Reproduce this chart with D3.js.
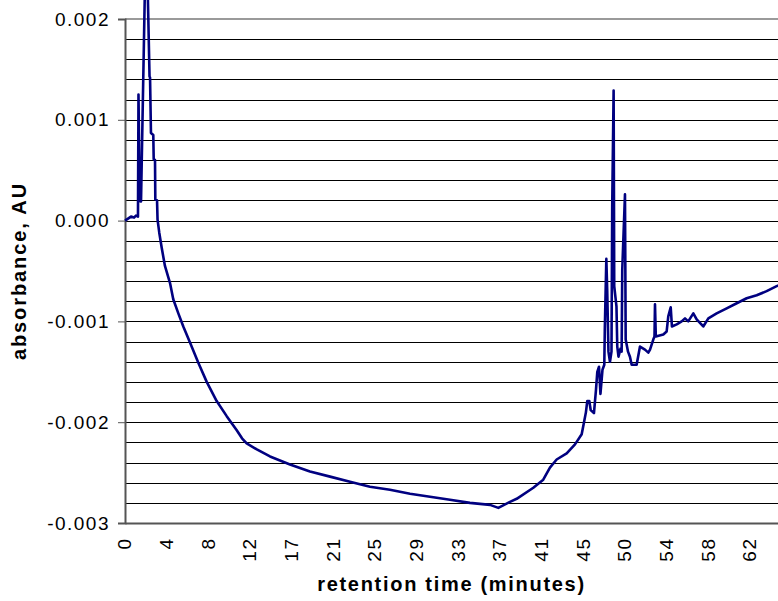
<!DOCTYPE html>
<html>
<head>
<meta charset="utf-8">
<script src="https://cdn.jsdelivr.net/npm/d3@7"></script>
<style>
  body { margin: 0; background: #fff; }
  text { font-family: "Liberation Sans", Arial, sans-serif; }
</style>
</head>
<body>
<div id="chart"></div>
<script>
// retention time (minutes) and absorbance (AU)
var times = [0.00, 0.30, 0.59, 0.89, 1.08, 1.28, 1.33, 1.43, 1.53, 1.58, 2.09, 2.42, 2.47, 2.56, 2.79, 2.83,
  2.96, 2.99, 3.16, 3.21, 3.38, 3.62, 3.94, 4.44, 4.76, 5.26, 5.75, 6.41, 7.23, 8.06, 9.04, 10.03, 11.02,
  11.54, 12.00, 13.00, 14.30, 16.27, 18.24, 20.22, 22.19, 24.16, 26.13, 28.11, 30.08, 32.05, 34.02, 36.00,
  36.82, 37.97, 38.63, 40.27, 41.25, 41.91, 42.57, 43.56, 44.38, 45.04, 45.27, 45.46, 45.59, 45.79, 45.93,
  46.25, 46.45, 46.58, 46.75, 46.89, 47.09, 47.27, 47.32, 47.47, 47.56, 47.68, 47.83, 47.98, 48.05, 48.19,
  48.25, 48.47, 48.55, 48.67, 48.87, 48.98, 49.04, 49.31, 49.38, 49.61, 49.80, 49.97, 50.46, 50.79, 51.28,
  51.61, 51.78, 52.10, 52.22, 52.27, 52.35, 53.09, 53.42, 53.58, 53.82, 53.94, 54.41, 54.90, 55.23, 55.55,
  56.05, 56.38, 57.03, 57.53, 58.35, 59.34, 60.33, 61.31, 62.30, 63.28, 64.27, 64.50];

var absorbance = [0.00000, 0.00002, 0.00004, 0.00003, 0.00005, 0.00004, 0.00125, 0.00039, 0.00019, 0.00019,
  0.00300, 0.00143, 0.00142, 0.00087, 0.00085, 0.00061, 0.00060, 0.00021, 0.00020, 0.00001, -0.00012,
  -0.00027, -0.00045, -0.00062, -0.00078, -0.00092, -0.00105, -0.00121, -0.00141, -0.00160, -0.00179,
  -0.00194, -0.00208, -0.00216, -0.00221, -0.00227, -0.00234, -0.00242, -0.00249, -0.00254, -0.00259,
  -0.00264, -0.00267, -0.00271, -0.00274, -0.00277, -0.00280, -0.00282, -0.00285, -0.00279, -0.00276,
  -0.00265, -0.00257, -0.00245, -0.00237, -0.00231, -0.00222, -0.00212, -0.00200, -0.00190, -0.00179,
  -0.00179, -0.00188, -0.00191, -0.00168, -0.00150, -0.00145, -0.00172, -0.00148, -0.00143, -0.00108,
  -0.00038, -0.00070, -0.00130, -0.00140, -0.00130, 0.00014, 0.00129, -0.00065, -0.00085, -0.00125,
  -0.00135, -0.00127, -0.00130, -0.00049, 0.00026, -0.00118, -0.00130, -0.00135, -0.00143, -0.00143,
  -0.00125, -0.00128, -0.00131, -0.00128, -0.00118, -0.00115, -0.00083, -0.00115, -0.00113, -0.00110,
  -0.00095, -0.00086, -0.00105, -0.00103, -0.00100, -0.00097, -0.00100, -0.00092, -0.00098, -0.00105,
  -0.00097, -0.00092, -0.00087, -0.00082, -0.00077, -0.00074, -0.00070, -0.00065, -0.00064];

// category labels shown under the x axis (one every 4.11 min)
var xTickLabels = ["0", "4", "8", "12", "17", "21", "25", "29", "33", "37", "41", "45", "50", "54", "58", "62"];
var xLabelStep = 4.11;

var yTickValues = [-0.003, -0.002, -0.001, 0, 0.001, 0.002];
var yTickLabels = ["-0.003", "-0.002", "-0.001", "0.000", "0.001", "0.002"];
var yGridStep = 0.0002;

var data = times.map(function (t, i) { return { t: t, v: absorbance[i] }; });

// set the dimensions and margins of the graph
var margin = { top: 19, right: 0, bottom: 78, left: 125 },
  width = 779 - margin.left - margin.right,
  height = 523 - margin.top;

var svg = d3.select("#chart")
  .append("svg")
  .attr("width", 778)
  .attr("height", 601)
  .append("g")
  .attr("transform", "translate(" + margin.left + "," + margin.top + ")");

var x = d3.scaleLinear()
  .domain([0, 64.5])
  .range([0, width]);

var y = d3.scaleLinear()
  .domain([-0.003, 0.002])
  .range([height, 0]);

// horizontal gridlines every 0.0002
var gridValues = d3.range(0, 26).map(function (i) { return -0.003 + i * yGridStep; });
svg.append("g")
  .attr("class", "grid")
  .call(d3.axisLeft(y).tickValues(gridValues).tickSize(-width).tickFormat(""))
  .call(function (g) { g.select(".domain").remove(); })
  .selectAll("line")
  .attr("stroke", "#000")
  .attr("shape-rendering", "crispEdges");

// top border of the plot area
svg.append("line")
  .attr("x1", 0).attr("x2", width)
  .attr("y1", y(0.002)).attr("y2", y(0.002))
  .attr("stroke", "#9a9a9a")
  .attr("stroke-width", 2);

// Y axis
var yAxis = svg.append("g")
  .call(d3.axisLeft(y)
    .tickValues(yTickValues)
    .tickSize(7)
    .tickPadding(8)
    .tickFormat(function (d, i) { return yTickLabels[i]; }));
yAxis.select(".domain").attr("stroke", "#555").attr("stroke-width", 2);
yAxis.selectAll(".tick line").attr("stroke", "#555");
yAxis.selectAll("text")
  .style("font-size", "19px")
  .style("letter-spacing", "1.5px")
  .attr("fill", "#000");

// X axis (category style labels, rotated)
var xAxis = svg.append("g")
  .attr("transform", "translate(0," + height + ")")
  .call(d3.axisBottom(x)
    .tickValues(xTickLabels.map(function (d, i) { return i * xLabelStep; }))
    .tickSize(0)
    .tickFormat(function (d, i) { return xTickLabels[i]; }));
xAxis.select(".domain").attr("stroke", "#555").attr("stroke-width", 2);
xAxis.selectAll("text")
  .attr("transform", "rotate(-90)")
  .attr("x", -14.5)
  .attr("y", 0)
  .attr("dy", "0.3em")
  .style("text-anchor", "end")
  .style("font-size", "19px")
  .style("letter-spacing", "1.5px")
  .attr("fill", "#000");

// Add the line
svg.append("path")
  .datum(data)
  .attr("fill", "none")
  .attr("stroke", "#000080")
  .attr("stroke-width", 2.6)
  .attr("stroke-linejoin", "round")
  .attr("d", d3.line()
    .x(function (d) { return x(d.t); })
    .y(function (d) { return y(d.v); }));

// x label
svg.append("text")
  .attr("x", (778 - margin.left) / 2)
  .attr("y", 591 - margin.top)
  .style("text-anchor", "middle")
  .style("font-size", "20px")
  .style("font-weight", "bold")
  .style("letter-spacing", "1.7px")
  .text("retention time (minutes)");

// y label
svg.append("text")
  .attr("transform", "rotate(-90)")
  .attr("x", -(height / 2))
  .attr("y", 26 - margin.left)
  .style("text-anchor", "middle")
  .style("font-size", "20px")
  .style("font-weight", "bold")
  .style("letter-spacing", "1.9px")
  .text("absorbance, AU");
</script>
</body>
</html>
